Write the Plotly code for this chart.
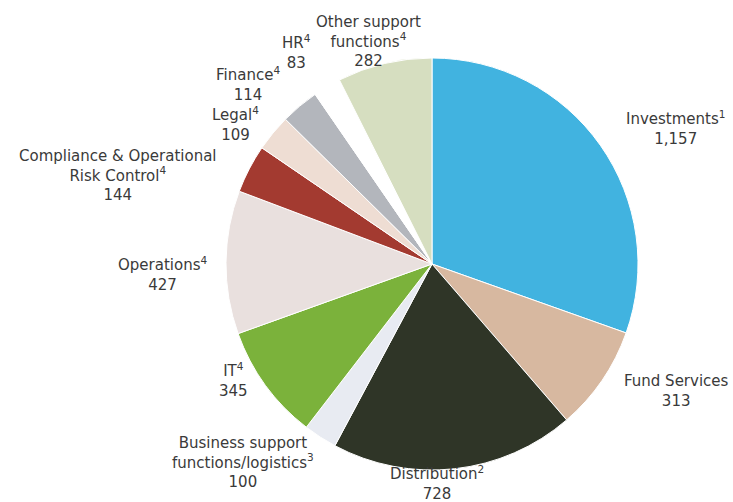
import plotly.graph_objects as go

categories = ["Investments", "Fund Services", "Distribution",
              "Business support functions/logistics", "IT", "Operations",
              "Compliance & Operational Risk Control", "Legal", "Finance",
              "HR", "Other support functions"]
values = [1157, 313, 728, 100, 345, 427, 144, 109, 114, 83, 282]
label_texts = ["Investments<sup>1</sup><br>1,157",
               "Fund Services<br>313",
               "Distribution<sup>2</sup><br>728",
               "Business support<br>functions/logistics<sup>3</sup><br>100",
               "IT<sup>4</sup><br>345",
               "Operations<sup>4</sup><br>427",
               "Compliance & Operational<br>Risk Control<sup>4</sup><br>144",
               "Legal<sup>4</sup><br>109",
               "Finance<sup>4</sup><br>114",
               "HR<sup>4</sup><br>83",
               "Other support<br>functions<sup>4</sup><br>282"]
colors = ["#41B3E0", "#D7B8A0", "#2F3527", "#E8EBF2", "#7BB23B", "#E9E0DE",
          "#A33A30", "#EEDDD3", "#B3B6BC", "#FFFFFF", "#D6DEC0"]

# label centre positions in pixels (x, y from top)
label_pos = [(675, 128), (676, 391), (437, 483), (243, 462), (233, 380),
             (162, 274), (118, 175), (235, 124), (248, 84), (296, 52),
             (368, 41)]

W, H = 733, 502
cx, cy, r = 432, 264, 206

fig = go.Figure(go.Pie(
    labels=categories, values=values, sort=False, direction="clockwise",
    rotation=0, textinfo="none", hoverinfo="label+value",
    marker=dict(colors=colors, line=dict(color="white", width=1)),
    domain=dict(x=[(cx - r) / W, (cx + r) / W],
                y=[1 - (cy + r) / H, 1 - (cy - r) / H]),
    showlegend=False,
))

for txt, (px, py) in zip(label_texts, label_pos):
    fig.add_annotation(x=px / W, y=1 - py / H, xref="paper", yref="paper",
                       text=txt, showarrow=False, align="center",
                       xanchor="center", yanchor="middle",
                       font=dict(family="DejaVu Sans", size=15, color="#3a3a3a"))

fig.update_layout(width=W, height=H, margin=dict(l=0, r=0, t=0, b=0),
                  paper_bgcolor="white", plot_bgcolor="white")
fig.write_html("out.html")
